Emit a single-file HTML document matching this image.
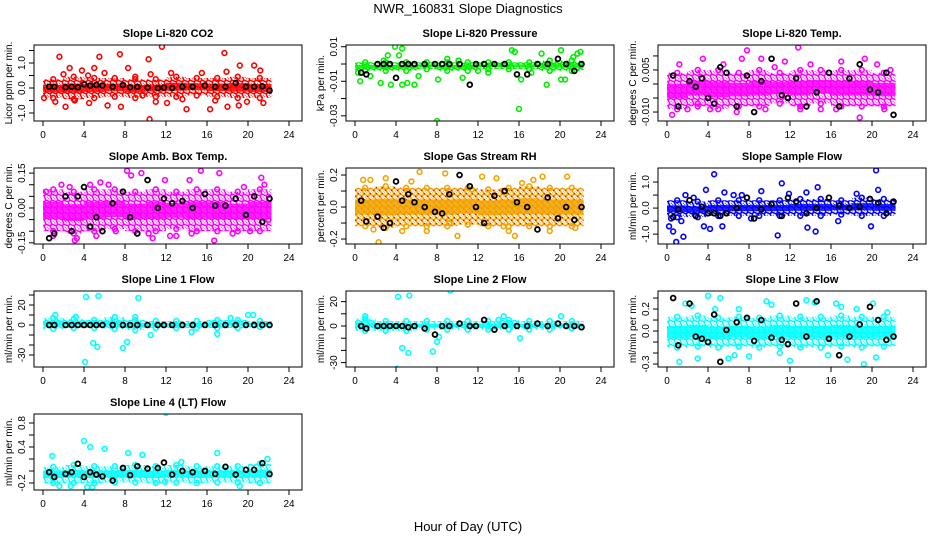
<!DOCTYPE html>
<html><head><meta charset="utf-8"><style>
body{margin:0;background:#fff}
svg{display:block}
text{font-family:"Liberation Sans",Arial,sans-serif}
</style></head><body>
<svg id="chart" width="936" height="540" viewBox="0 0 936 540" xmlns="http://www.w3.org/2000/svg">
<defs id="defs"></defs>
<text x="468" y="13" font-size="13" text-anchor="middle">NWR_160831  Slope Diagnostics</text>
<text x="468" y="531" font-size="13" text-anchor="middle">Hour of Day (UTC)</text>
</svg>
<script>
// ---------- data ----------
const xTicks=[0,4,8,12,16,20,24];
const bandHours=[0,2,4,6,8,10,12,14,16,18,20,22.3];
const blackX=[0.6,1.1,2.2,2.8,3.4,4.0,4.6,5.2,5.8,6.8,7.8,8.5,9.2,10.2,11.2,11.8,12.6,13.6,14.6,15.8,16.8,17.8,18.8,19.8,20.6,21.4,22.1];

const co2Lo=[-0.4,-0.45,-0.4,-0.35,-0.4,-0.35,-0.35,-0.3,-0.35,-0.4,-0.4];
const co2Hi=[0.35,0.45,0.4,0.4,0.35,0.35,0.45,0.4,0.4,0.45,0.4];
const co2OutX=[1.6,5.5,7.5,10.3,11.6,17.7,10.4,14,16.3,2.2,7.6,18,19.1,2,2.6,3.8,5,6,8.3,9,10.5,12.5,15.5,19.2,20.6,21.2,1.2,3.1,4.5,6.3,11,12.1,13.6,16.8,19.9,21.5,0.1,9.7,17.9,4.4];
const co2OutY=[1.25,1.25,1.35,1.15,1.65,1.4,-1.25,-0.85,-0.85,-0.75,-0.75,-0.75,-0.7,0.55,0.8,0.7,0.8,0.6,0.8,0.45,0.55,0.6,0.6,0.9,0.9,0.7,-0.55,-0.5,-0.6,-0.7,-0.55,-0.6,-0.45,-0.5,-0.55,-0.6,-0.4,-0.3,0.65,0.5];
const co2Black=[0.05,0.05,0.03,0.05,0.03,0.15,0.1,0.12,0.1,0.05,0.12,0.03,0.05,0.02,0.0,0.02,0.0,0.05,0.05,0.1,0.05,0.05,0.2,0.05,0.05,0.07,-0.1];

const presLo=[-0.004,-0.004,-0.004,-0.003,-0.004,-0.004,-0.003,-0.003,-0.003,-0.004,-0.004];
const presHi=[0.001,0.001,0.001,0.001,0.001,0.001,0.001,0.001,0.001,0.002,0.002];
const presOutX=[0.3,0.5,3.2,3.9,4.6,4.3,2.5,3.5,4.6,5.1,5.8,8.0,8.1,9.0,10.1,10.5,15.3,15.6,16,16.2,18.2,18.7,20.1,20.1,20.5,21.3,22,21.7,1.5,6.2,13,17.2,2.8,12,19];
const presOutY=[-0.005,-0.01,0.005,0.01,0.009,0.005,-0.011,-0.012,-0.012,-0.011,-0.012,-0.033,-0.009,0.003,0.002,-0.008,0.008,0.007,-0.026,-0.009,0.006,-0.012,0.008,-0.009,-0.009,0.004,0.007,0.006,-0.007,-0.007,-0.005,-0.005,0.002,-0.004,-0.004];
const presBlack=[-0.005,-0.006,0,0,0,-0.008,0,0,0,0,0,0,0,0,-0.012,0,0,0,0,-0.006,-0.006,0,0,0.003,0,-0.004,0];

const tempLo=[-0.009,-0.008,-0.009,-0.008,-0.008,-0.007,-0.008,-0.007,-0.008,-0.008,-0.008];
const tempHi=[0.004,0.005,0.005,0.004,0.005,0.004,0.005,0.005,0.005,0.005,0.004];
const tempOutX=[0.5,2,3.5,4.2,6.8,7.8,9.2,9.6,12.8,13,18.8,19.3,21.2,21.8,1.2,5.5,10.5,15,17,7.3,11.5,16.5,20.5,3,14];
const tempOutY=[-0.011,-0.009,0.009,-0.009,-0.01,0.012,0.009,-0.009,0.013,-0.009,-0.012,0.009,-0.009,0.005,0.007,0.007,0.006,-0.009,0.008,0.009,0.008,-0.009,0.007,-0.007,0.007];
const tempBlack=[0.003,-0.008,0.001,-0.001,0.002,-0.005,-0.007,0.006,0.004,-0.008,0.003,-0.01,0.001,0.009,-0.004,-0.005,0.002,-0.008,-0.003,0.004,-0.008,0.002,0.007,-0.002,-0.003,0.004,-0.011];

const ambLo=[-0.1,-0.11,-0.1,-0.09,-0.1,-0.1,-0.09,-0.1,-0.1,-0.1,-0.1];
const ambHi=[0.08,0.07,0.08,0.08,0.07,0.08,0.07,0.08,0.08,0.07,0.08];
const ambOutX=[0.3,1,1.8,2.6,3.3,5.2,5.6,6.4,8.2,8.6,9.6,10.3,10.7,12.4,13,14.5,15.4,16.7,17.2,18.5,19.6,21.3,21.6,22,4.6,7.1,11.9,14.3,20.2,3.1];
const ambOutY=[0.07,-0.12,0.1,0.09,-0.13,-0.12,0.11,0.1,0.16,0.14,0.15,-0.11,-0.13,-0.12,-0.12,-0.11,0.16,-0.14,0.15,-0.11,0.09,0.13,0.1,-0.05,0.1,-0.1,0.12,0.12,-0.1,-0.14];
const ambBlack=[-0.13,-0.11,0.05,-0.1,0.05,0.09,-0.08,-0.04,-0.1,0.02,0.07,-0.04,-0.11,0.12,0.0,0.04,0.02,0.03,0.0,0.06,0.01,0.01,0.04,-0.03,0.05,-0.06,0.04];

const rhLo=[-0.12,-0.13,-0.12,-0.12,-0.12,-0.11,-0.12,-0.12,-0.12,-0.12,-0.12];
const rhHi=[0.12,0.13,0.12,0.12,0.12,0.12,0.11,0.12,0.13,0.12,0.12];
const rhOutX=[0.8,1.5,2.3,3,4.6,6.3,7,8.8,10,11.4,12.4,13.8,15,15.6,17.4,18.3,19,20.7,21.5,1.8,5.5,9.2,14.5,16.3];
const rhOutY=[0.17,0.17,-0.22,0.18,-0.15,0.22,-0.15,0.21,-0.18,0.11,0.19,0.18,-0.15,-0.18,0.17,0.19,-0.15,0.19,-0.13,-0.14,0.16,-0.1,-0.12,0.15];
const rhBlack=[0.04,-0.09,-0.06,-0.13,-0.1,0.16,0.04,0.08,0.03,0.0,-0.03,-0.04,0.08,0.2,0.13,0.0,-0.1,0.07,0.1,0.03,0.0,-0.14,0.06,-0.07,0.0,-0.08,0.0];

const flowLo=[-0.35,-0.35,-0.3,-0.3,-0.3,-0.3,-0.3,-0.3,-0.25,-0.3,-0.3];
const flowHi=[0.3,0.25,0.3,0.3,0.3,0.3,0.35,0.35,0.3,0.4,0.35];
const flowOutX=[0.2,0.4,0.6,0.9,1.4,1.6,1.8,3.6,3.8,4.2,4.6,5.4,5.6,6.5,7.3,9.2,10.8,11.2,11.9,13.6,13.7,14.5,14.7,18.5,19.9,20.4,20.6,2.6,8.2,16.7];
const flowOutY=[-0.7,-0.4,-0.9,-1.3,-0.5,-1.1,0.5,-0.7,0.7,-0.8,1.3,-0.7,0.6,0.5,0.5,0.65,-1.05,0.95,0.55,0.6,-0.75,-0.9,0.8,0.55,-0.7,1.45,0.7,0.4,-0.4,-0.5];
const flowBlack=[-0.35,-0.05,0.3,-0.3,0.05,-0.2,-0.2,-0.3,-0.2,0.0,0.4,-0.4,-0.05,0.15,-0.3,0.4,0.25,-0.2,0.0,0.4,0.1,0.0,0.05,0.35,0.2,-0.2,0.25];

const l1Lo=[-4,-3,-3,-4,-5,-3,-3,-3,-3,-3,-2];
const l1Hi=[7,6,5,8,5,4,4,4,5,5,4];
const l1OutX=[4.2,5.4,9.3,4.1,4.9,5.3,7.8,8.2,20,20.5,1.2,3.2,9,10.5,14.5,17,18.3];
const l1OutY=[28,29,27,-37,-18,-22,-23,-17,10,10,10,8,8,-10,-7,-9,7];
const l1Black=[0,0,0,0,0,0,0,0,0,0,0,0,0,0,0,0,0,0,0,0,0,0,0,0,0,0,0];

const l2Lo=[-4,-4,-4,-3,-3,-3,-3,-3,-3,-3,-2];
const l2Hi=[6,4,4,4,4,4,4,5,4,4,4];
const l2OutX=[4.2,5.3,9.3,4.1,4.6,5.2,7.6,8.0,8.2,16.1,20.1,1,14,14.5];
const l2OutY=[24,25,29,-35,-18,-22,-21,-13,-9,-10,8,8,5,8];
const l2Black=[0,-2,0,0,0,0,0,-1,0,-2,-7,0,0,2,0,0,5,-3,0,0,0,2,0,2,0,0,-1];

const l3Lo=[-0.15,-0.14,-0.15,-0.14,-0.15,-0.14,-0.15,-0.15,-0.14,-0.15,-0.14];
const l3Hi=[0.13,0.14,0.12,0.13,0.12,0.14,0.13,0.13,0.14,0.13,0.13];
const l3OutX=[1.2,1.8,3,4,4.7,5.2,6,7,8,9.7,10.2,11,12,13.6,14.4,15.7,17,17.6,18.5,19.2,20.1,20.4,21.5,2.4,6.6,16.5];
const l3OutY=[-0.28,0.25,-0.25,0.32,0.2,0.3,-0.25,0.2,-0.23,0.27,0.24,-0.2,-0.27,0.28,0.26,-0.22,0.22,-0.26,0.2,-0.3,0.25,-0.24,0.17,0.23,-0.22,0.25];
const l3Black=[0.3,-0.13,0.25,-0.05,-0.07,-0.1,0.15,-0.28,0.01,0.08,0.12,-0.09,0.1,-0.06,-0.08,-0.12,0.25,-0.05,0.27,-0.07,-0.22,-0.05,0.06,0.22,0.1,-0.08,-0.05];

const l4Lo=[-0.2,-0.2,-0.2,-0.19,-0.19,-0.2,-0.19,-0.2,-0.19,-0.19,-0.2];
const l4Hi=[0.07,0.1,0.08,0.08,0.1,0.08,0.1,0.08,0.08,0.08,0.12];
const l4OutX=[4,4.6,6,8.3,12,17,1.6,2.7,4.3,4.8,19.2,0.9,9.7,21.9,13.5,11.9];
const l4OutY=[0.5,0.4,0.37,0.3,0.97,0.3,-0.25,-0.25,-0.27,-0.27,-0.25,0.25,0.27,0.2,0.15,-0.18];
const l4Black=[-0.02,-0.1,-0.05,-0.02,0.12,-0.1,-0.02,-0.06,-0.09,-0.16,0.05,-0.07,0.08,0.04,0.05,0.14,-0.06,0.0,-0.02,0.0,-0.05,0.07,-0.06,0.02,0.02,0.13,-0.05];

const panels=[
 {name:'co2',title:'Slope Li-820 CO2',ylab:'Licor ppm per min.',col:'#ff0000',ylim:[-1.32,1.72],ticks:[-1,-0.5,0,0.5,1,1.5],labels:['-1.0','','0.0','','1.0',''],lo:co2Lo,hi:co2Hi,ox:co2OutX,oy:co2OutY,bk:co2Black},
 {name:'pressure',title:'Slope Li-820 Pressure',ylab:'kPa per min.',col:'#00ee00',ylim:[-0.033,0.011],ticks:[-0.03,-0.02,-0.01,0,0.01],labels:['-0.03','','-0.01','','0.01'],lo:presLo,hi:presHi,ox:presOutX,oy:presOutY,bk:presBlack},
 {name:'li820-temp',title:'Slope Li-820 Temp.',ylab:'degrees C per min.',col:'#ff00ff',ylim:[-0.0132,0.0139],ticks:[-0.01,-0.005,0,0.005,0.01],labels:['-0.010','','','0.005',''],lo:tempLo,hi:tempHi,ox:tempOutX,oy:tempOutY,bk:tempBlack},
 {name:'amb-box-temp',title:'Slope Amb. Box Temp.',ylab:'degrees C per min.',col:'#ff00ff',ylim:[-0.155,0.172],ticks:[-0.15,-0.1,-0.05,0,0.05,0.1,0.15],labels:['-0.15','','','0.00','','','0.15'],lo:ambLo,hi:ambHi,ox:ambOutX,oy:ambOutY,bk:ambBlack},
 {name:'gas-stream-rh',title:'Slope Gas Stream RH',ylab:'percent per min.',col:'#f2a400',ylim:[-0.231,0.244],ticks:[-0.2,-0.1,0,0.1,0.2],labels:['-0.2','','0.0','','0.2'],lo:rhLo,hi:rhHi,ox:rhOutX,oy:rhOutY,bk:rhBlack},
 {name:'sample-flow',title:'Slope Sample Flow',ylab:'ml/min per min.',col:'#0000ff',ylim:[-1.38,1.54],ticks:[-1,-0.5,0,0.5,1],labels:['-1.0','','0.0','','1.0'],lo:flowLo,hi:flowHi,ox:flowOutX,oy:flowOutY,bk:flowBlack},
 {name:'line1-flow',title:'Slope Line 1 Flow',ylab:'ml/min per min.',col:'#00ffff',ylim:[-42,34],ticks:[-30,-20,-10,0,10,20,30],labels:['-30','','','0','','20',''],lo:l1Lo,hi:l1Hi,ox:l1OutX,oy:l1OutY,bk:l1Black},
 {name:'line2-flow',title:'Slope Line 2 Flow',ylab:'ml/min per min.',col:'#00ffff',ylim:[-33.6,28.7],ticks:[-30,-20,-10,0,10,20],labels:['-30','','','0','','20'],lo:l2Lo,hi:l2Hi,ox:l2OutX,oy:l2OutY,bk:l2Black},
 {name:'line3-flow',title:'Slope Line 3 Flow',ylab:'ml/min per min.',col:'#00ffff',ylim:[-0.327,0.364],ticks:[-0.3,-0.2,-0.1,0,0.1,0.2,0.3],labels:['-0.3','','','0.0','','0.2',''],lo:l3Lo,hi:l3Hi,ox:l3OutX,oy:l3OutY,bk:l3Black},
 {name:'line4-flow',title:'Slope Line 4 (LT) Flow',ylab:'ml/min per min.',col:'#00ffff',ylim:[-0.317,0.95],ticks:[-0.2,0,0.2,0.4,0.6,0.8],labels:['-0.2','','','0.4','','0.8'],lo:l4Lo,hi:l4Hi,ox:l4OutX,oy:l4OutY,bk:l4Black}
];

// ---------- drawing ----------
const svg=document.getElementById('chart');
const defs=document.getElementById('defs');
const NS='http://www.w3.org/2000/svg';
function mk(tag,attrs,parent){const e=document.createElementNS(NS,tag);for(const k in attrs)e.setAttribute(k,attrs[k]);(parent||svg).appendChild(e);return e;}
const W=268,H=76;
panels.forEach((p,i)=>{
  const c=i%3,r=Math.floor(i/3);
  const L=34+312*c,T=45+123*r;
  const xs=h=>L+9+h*10.25;
  const ys=v=>T+H-(v-p.ylim[0])/(p.ylim[1]-p.ylim[0])*H;
  const pat=mk('pattern',{id:'pat'+i,patternUnits:'userSpaceOnUse',width:6,height:6},defs);
  mk('circle',{cx:1.5,cy:1.5,r:2.1,fill:'none',stroke:p.col,'stroke-width':1.5},pat);
  mk('circle',{cx:4.5,cy:4.5,r:2.1,fill:'none',stroke:p.col,'stroke-width':1.5},pat);
  if(p.name==='gas-stream-rh'){mk('circle',{cx:1.5,cy:4.5,r:0.8,fill:'#ff0000'},pat);mk('circle',{cx:4.5,cy:1.5,r:0.8,fill:'#ff0000'},pat);}
  const g=mk('g',{});
  
  
  const clip=mk('clipPath',{id:'clip'+i},g);
  mk('rect',{x:L,y:T,width:W,height:H},clip);
  const plot=mk('g',{'clip-path':'url(#clip'+i+')'},g);
  for(let k=0;k<p.lo.length;k++){
    const x0=xs(bandHours[k]),w=xs(bandHours[k+1])-x0;
    const yt=ys(p.hi[k]),yb=ys(p.lo[k]),h=yb-yt;
    const b=mk('rect',{x:x0,y:yt,width:w,height:h,fill:'url(#pat'+i+')'},plot);
    
    
    const core=mk('rect',{x:x0,y:yt+h*0.3,width:w,height:h*0.4,fill:p.col,opacity:0.85},plot);
    
    
  }
  for(let k=0;k<p.lo.length;k++){
    const h=(bandHours[k]+bandHours[k+1])/2;
    for(const v of [p.lo[k],p.hi[k]]){
      const pt=mk('circle',{cx:xs(h),cy:ys(v),r:2.4,fill:'none',stroke:p.col,'stroke-width':1.6},plot);
      
      
    }
  }
  p.ox.forEach((h,k)=>{
    const pt=mk('circle',{cx:xs(h),cy:ys(p.oy[k]),r:2.4,fill:'none',stroke:p.col,'stroke-width':1.6},plot);
    
    
  });
  p.bk.forEach((v,k)=>{
    const pt=mk('circle',{cx:xs(blackX[k]),cy:ys(v),r:2.4,fill:'none',stroke:'#000','stroke-width':1.8},plot);
    
    
  });
  const box=mk('rect',{x:L,y:T,width:W,height:H,fill:'none',stroke:'#000','stroke-width':1},g);
  
  
  mk('line',{x1:xs(0),x2:xs(24),y1:T+H,y2:T+H,stroke:'#000'},g);
  xTicks.forEach(t=>{
    mk('line',{x1:xs(t),x2:xs(t),y1:T+H,y2:T+H+5,stroke:'#000'},g);
    const tl=mk('text',{x:xs(t),y:T+H+17,'font-size':10,'text-anchor':'middle'},g);
    
    
    tl.textContent=t;
  });
  mk('line',{x1:L,x2:L,y1:ys(p.ticks[0]),y2:ys(p.ticks[p.ticks.length-1]),stroke:'#000'},g);
  p.ticks.forEach((t,k)=>{
    mk('line',{x1:L-5,x2:L,y1:ys(t),y2:ys(t),stroke:'#000'},g);
    if(p.labels[k]){
      const tl=mk('text',{x:0,y:0,'font-size':10,'text-anchor':'middle',transform:'translate('+(L-9)+','+ys(t)+') rotate(-90)'},g);
      
      
      tl.textContent=p.labels[k];
    }
  });
  const yl=mk('text',{x:0,y:0,'font-size':10,'text-anchor':'middle',transform:'translate('+(L-22)+','+(T+H/2)+') rotate(-90)'},g);
  
  
  yl.textContent=p.ylab;
  const tt=mk('text',{x:L+W/2,y:T-8,'font-size':11,'font-weight':'bold','text-anchor':'middle'},g);
  
  
  tt.textContent=p.title;
});
</script>
</body></html>
